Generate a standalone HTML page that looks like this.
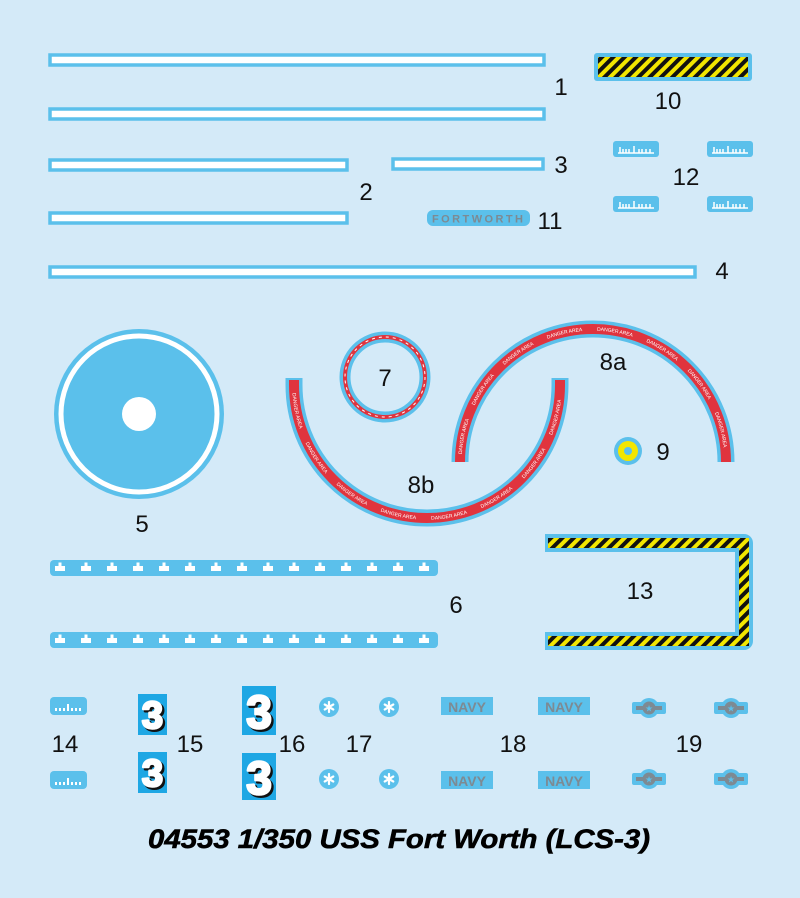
<!DOCTYPE html>
<html><head><meta charset="utf-8"><style>
html,body{margin:0;padding:0;background:#d4eaf8;}
svg{display:block;}
text{font-family:"Liberation Sans",sans-serif;}
.pre{white-space:pre;}
</style></head><body>
<svg width="800" height="898" viewBox="0 0 800 898" xmlns="http://www.w3.org/2000/svg">
<defs>
<pattern id="hz" patternUnits="userSpaceOnUse" width="8" height="8" patternTransform="rotate(45)">
<rect width="8" height="8" fill="#f2e600"/><rect width="4" height="8" fill="#111"/>
</pattern>
<path id="p8a" d="M 460 462 A 133 133 0 0 1 726 462"/>
<path id="p8b" d="M 294 385 A 133 133 0 0 0 560 385"/>
</defs>
<rect width="800" height="898" fill="#d4eaf8"/>
<g fill="#fff" stroke="#5bc0eb" stroke-width="3.5">
<rect x="50" y="55" width="494" height="10"/>
<rect x="50" y="109" width="494" height="10"/>
<rect x="50" y="160" width="297" height="10"/>
<rect x="393" y="159" width="150" height="10"/>
<rect x="50" y="213" width="297" height="10"/>
<rect x="50" y="267" width="645" height="10"/>
</g>
<rect x="594" y="53" width="158" height="28" rx="3" fill="#5bc0eb"/>
<rect x="598" y="57" width="150" height="20" fill="url(#hz)"/>
<g fill="#5bc0eb">
<rect x="613" y="141" width="46" height="16" rx="3"/><rect x="707" y="141" width="46" height="16" rx="3"/>
<rect x="613" y="196" width="46" height="16" rx="3"/><rect x="707" y="196" width="46" height="16" rx="3"/>
</g>
<g stroke="#fff" stroke-width="1.5">
<path d="M618 153h36M620 147v6M623 149v4M626 149v4M629 149v4M634 146v7M639 149v4M642 149v4M646 149v4M650 149v4"/>
<path d="M712 153h36M714 147v6M717 149v4M720 149v4M723 149v4M728 146v7M733 149v4M736 149v4M740 149v4M744 149v4"/>
<path d="M618 208h36M620 202v6M623 204v4M626 204v4M629 204v4M634 201v7M639 204v4M642 204v4M646 204v4M650 204v4"/>
<path d="M712 208h36M714 202v6M717 204v4M720 204v4M723 204v4M728 201v7M733 204v4M736 204v4M740 204v4M744 204v4"/>
</g>
<rect x="427" y="210" width="103" height="16" rx="6" fill="#5bc0eb"/>
<text x="478" y="222.5" font-size="11" font-weight="bold" fill="#7d8a93" text-anchor="middle" textLength="92" letter-spacing="1">FORTWORTH</text>
<circle cx="139" cy="414" r="85" fill="#5bc0eb"/>
<circle cx="139" cy="414" r="78" fill="none" stroke="#fff" stroke-width="5"/>
<circle cx="139" cy="414" r="17" fill="#fff"/>
<circle cx="385" cy="377" r="40" fill="none" stroke="#5bc0eb" stroke-width="11"/>
<circle cx="385" cy="377" r="40" fill="none" stroke="#e0343e" stroke-width="4"/>
<circle cx="385" cy="377" r="40" fill="none" stroke="#fff" stroke-width="1" stroke-dasharray="3 4"/>
<path d="M 460 462 A 133 133 0 0 1 726 462" fill="none" stroke="#5bc0eb" stroke-width="17"/>
<path d="M 460 462 A 133 133 0 0 1 726 462" fill="none" stroke="#e0343e" stroke-width="10"/>
<path d="M 294 378 L 294 385 A 133 133 0 0 0 560 385 L 560 378" fill="none" stroke="#5bc0eb" stroke-width="17"/>
<path d="M 294 380 L 294 385 A 133 133 0 0 0 560 385 L 560 380" fill="none" stroke="#e0343e" stroke-width="10"/>
<text class="pre" font-size="5" fill="#fff" dy="1.7"><textPath href="#p8a" startOffset="8">DANGER AREA           DANGER AREA           DANGER AREA           DANGER AREA           DANGER AREA           DANGER AREA           DANGER AREA           DANGER AREA           DANGER AREA           DANGER AREA</textPath></text>
<text class="pre" font-size="5" fill="#fff" dy="1.7"><textPath href="#p8b" side="right" startOffset="8">DANGER AREA           DANGER AREA           DANGER AREA           DANGER AREA           DANGER AREA           DANGER AREA           DANGER AREA           DANGER AREA           DANGER AREA           DANGER AREA</textPath></text>
<circle cx="628" cy="451" r="14" fill="#5bc0eb"/>
<circle cx="628" cy="451" r="10" fill="#f2e600"/>
<circle cx="628" cy="451" r="4" fill="#5bc0eb"/>
<rect x="50" y="560" width="388" height="16" rx="4" fill="#5bc0eb"/>
<rect x="50" y="632" width="388" height="16" rx="4" fill="#5bc0eb"/>
<g fill="#fff">
<path d="M55 566h3.5v-3.5h3v3.5h3.5v5h-10zM81 566h3.5v-3.5h3v3.5h3.5v5h-10zM107 566h3.5v-3.5h3v3.5h3.5v5h-10zM133 566h3.5v-3.5h3v3.5h3.5v5h-10zM159 566h3.5v-3.5h3v3.5h3.5v5h-10zM185 566h3.5v-3.5h3v3.5h3.5v5h-10zM211 566h3.5v-3.5h3v3.5h3.5v5h-10zM237 566h3.5v-3.5h3v3.5h3.5v5h-10zM263 566h3.5v-3.5h3v3.5h3.5v5h-10zM289 566h3.5v-3.5h3v3.5h3.5v5h-10zM315 566h3.5v-3.5h3v3.5h3.5v5h-10zM341 566h3.5v-3.5h3v3.5h3.5v5h-10zM367 566h3.5v-3.5h3v3.5h3.5v5h-10zM393 566h3.5v-3.5h3v3.5h3.5v5h-10zM419 566h3.5v-3.5h3v3.5h3.5v5h-10z"/>
<path transform="translate(0,72)" d="M55 566h3.5v-3.5h3v3.5h3.5v5h-10zM81 566h3.5v-3.5h3v3.5h3.5v5h-10zM107 566h3.5v-3.5h3v3.5h3.5v5h-10zM133 566h3.5v-3.5h3v3.5h3.5v5h-10zM159 566h3.5v-3.5h3v3.5h3.5v5h-10zM185 566h3.5v-3.5h3v3.5h3.5v5h-10zM211 566h3.5v-3.5h3v3.5h3.5v5h-10zM237 566h3.5v-3.5h3v3.5h3.5v5h-10zM263 566h3.5v-3.5h3v3.5h3.5v5h-10zM289 566h3.5v-3.5h3v3.5h3.5v5h-10zM315 566h3.5v-3.5h3v3.5h3.5v5h-10zM341 566h3.5v-3.5h3v3.5h3.5v5h-10zM367 566h3.5v-3.5h3v3.5h3.5v5h-10zM393 566h3.5v-3.5h3v3.5h3.5v5h-10zM419 566h3.5v-3.5h3v3.5h3.5v5h-10z"/>
</g>
<path d="M 545 543 H 744 V 641 H 545" fill="none" stroke="#5bc0eb" stroke-width="18" stroke-linejoin="round"/>
<path d="M 548 543 H 744 V 641 H 548" fill="none" stroke="url(#hz)" stroke-width="10"/>
<g fill="#5bc0eb">
<rect x="50" y="697" width="37" height="18" rx="4"/><rect x="50" y="771" width="37" height="18" rx="4"/>
</g>
<g stroke="#fff" stroke-width="2">
<path d="M56 711v-3M60 711v-3M64 711v-3M68 711v-7M72 711v-3M76 711v-3M80 711v-3"/>
<path d="M56 785v-3M60 785v-3M64 785v-3M68 785v-7M72 785v-3M76 785v-3M80 785v-3"/>
</g>
<g fill="#1ea7e4">
<rect x="138" y="694" width="29" height="41"/><rect x="138" y="752" width="29" height="41"/>
<rect x="242" y="686" width="34" height="49"/><rect x="242" y="753" width="34" height="47"/>
</g>
<g font-weight="bold" text-anchor="middle" fill="#111" stroke="#111" stroke-width="3" stroke-linejoin="round">
<text x="154.5" y="730" font-size="38">3</text>
<text x="154.5" y="788" font-size="38">3</text>
<text x="261" y="730" font-size="46">3</text>
<text x="261" y="796" font-size="46">3</text>
</g>
<g font-weight="bold" text-anchor="middle" fill="#fff" stroke="#fff" stroke-width="2.5" stroke-linejoin="round">
<text x="152.5" y="728" font-size="38">3</text>
<text x="152.5" y="786" font-size="38">3</text>
<text x="259" y="728" font-size="46">3</text>
<text x="259" y="794" font-size="46">3</text>
</g>
<g fill="#5bc0eb">
<circle cx="329" cy="707" r="10"/><circle cx="389" cy="707" r="10"/><circle cx="329" cy="779" r="10"/><circle cx="389" cy="779" r="10"/>
</g>
<g stroke="#fff" stroke-width="2.2" stroke-linecap="round">
<path d="M329 702v10M324.7 704.5l8.6 5M324.7 709.5l8.6-5"/>
<path d="M389 702v10M384.7 704.5l8.6 5M384.7 709.5l8.6-5"/>
<path d="M329 774v10M324.7 776.5l8.6 5M324.7 781.5l8.6-5"/>
<path d="M389 774v10M384.7 776.5l8.6 5M384.7 781.5l8.6-5"/>
</g>
<g fill="#5bc0eb">
<rect x="441" y="697" width="52" height="18"/><rect x="538" y="697" width="52" height="18"/>
<rect x="441" y="771" width="52" height="18"/><rect x="538" y="771" width="52" height="18"/>
</g>
<g fill="#7d8a93" font-size="14" font-weight="bold" text-anchor="middle">
<text x="467" y="712">NAVY</text><text x="564" y="712">NAVY</text><text x="467" y="786">NAVY</text><text x="564" y="786">NAVY</text>
</g>
<g>
<g transform="translate(649,708)"><rect x="-17" y="-6" width="34" height="12" rx="2" fill="#5bc0eb"/><circle r="10" fill="#5bc0eb"/><rect x="-13" y="-2" width="26" height="4" fill="#7d8a93"/><circle r="6.5" fill="#7d8a93"/><text y="3.5" font-size="9" fill="#5bc0eb" text-anchor="middle">★</text></g>
<g transform="translate(731,708)"><rect x="-17" y="-6" width="34" height="12" rx="2" fill="#5bc0eb"/><circle r="10" fill="#5bc0eb"/><rect x="-13" y="-2" width="26" height="4" fill="#7d8a93"/><circle r="6.5" fill="#7d8a93"/><text y="3.5" font-size="9" fill="#5bc0eb" text-anchor="middle">★</text></g>
<g transform="translate(649,779)"><rect x="-17" y="-6" width="34" height="12" rx="2" fill="#5bc0eb"/><circle r="10" fill="#5bc0eb"/><rect x="-13" y="-2" width="26" height="4" fill="#7d8a93"/><circle r="6.5" fill="#7d8a93"/><text y="3.5" font-size="9" fill="#5bc0eb" text-anchor="middle">★</text></g>
<g transform="translate(731,779)"><rect x="-17" y="-6" width="34" height="12" rx="2" fill="#5bc0eb"/><circle r="10" fill="#5bc0eb"/><rect x="-13" y="-2" width="26" height="4" fill="#7d8a93"/><circle r="6.5" fill="#7d8a93"/><text y="3.5" font-size="9" fill="#5bc0eb" text-anchor="middle">★</text></g>
</g>
<g font-size="24" fill="#111" text-anchor="middle">
<text x="561" y="95">1</text><text x="668" y="109">10</text><text x="366" y="200">2</text><text x="561" y="173">3</text>
<text x="686" y="185">12</text><text x="550" y="229">11</text><text x="722" y="279">4</text><text x="385" y="386">7</text>
<text x="613" y="370">8a</text><text x="663" y="460">9</text><text x="421" y="493">8b</text><text x="142" y="532">5</text>
<text x="456" y="613">6</text><text x="640" y="599">13</text>
<text x="65" y="752">14</text><text x="190" y="752">15</text><text x="292" y="752">16</text><text x="359" y="752">17</text><text x="513" y="752">18</text><text x="689" y="752">19</text>
</g>
<text x="148" y="848" font-size="27" font-weight="bold" font-style="italic" fill="#000" stroke="#000" stroke-width="0.6" textLength="502" lengthAdjust="spacingAndGlyphs">04553 1/350 USS Fort Worth (LCS-3)</text>
</svg>
</body></html>
